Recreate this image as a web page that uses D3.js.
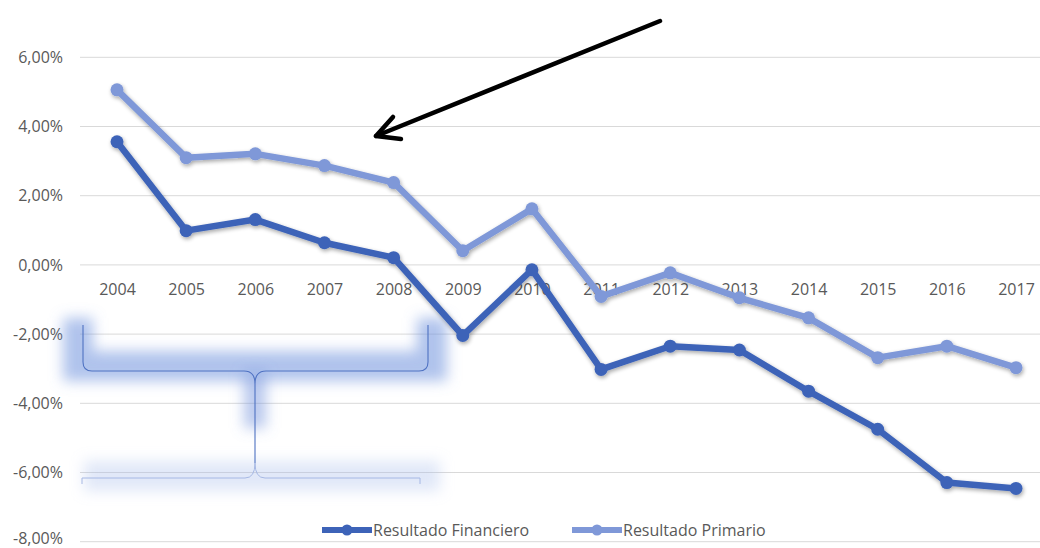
<!DOCTYPE html>
<html><head><meta charset="utf-8">
<script src="https://cdn.jsdelivr.net/npm/d3@7"></script>
<style>body{margin:0;background:#fff}svg{display:block}</style>
</head><body>
<svg id="c" width="1040" height="548"></svg>
<script>
const years = ["2004","2005","2006","2007","2008","2009","2010","2011","2012","2013","2014","2015","2016","2017"];
const financiero = [3.56, 0.99, 1.31, 0.64, 0.21, -2.04, -0.14, -3.02, -2.35, -2.46, -3.65, -4.75, -6.29, -6.46];
const primario = [5.06, 3.10, 3.21, 2.87, 2.38, 0.41, 1.62, -0.91, -0.23, -0.95, -1.53, -2.68, -2.35, -2.97];
const yTicks = [6, 4, 2, 0, -2, -4, -6, -8];
const seriesNames = ["Resultado Financiero", "Resultado Primario"];
const colors = ["#3d63b8", "#7f98d8"];

const svg = d3.select("#c");
const W = 1040, H = 548;
const x = d3.scalePoint().domain(years).range([117, 1016]);
const y = d3.scaleLinear().domain([-8, 6]).range([541.7, 57.3]);
const fmt = v => d3.format(".2f")(v).replace(".", ",").replace("−", "-") + "%";
const FS = 16;

const defs = svg.append("defs");
const sh = defs.append("filter").attr("id","sh").attr("x","-10%").attr("y","-10%").attr("width","120%").attr("height","130%");
sh.append("feGaussianBlur").attr("in","SourceAlpha").attr("stdDeviation",2.2).attr("result","b");
sh.append("feOffset").attr("in","b").attr("dx",1).attr("dy",2).attr("result","o");
sh.append("feComponentTransfer").attr("in","o").attr("result","o2").append("feFuncA").attr("type","linear").attr("slope",0.35);
const m = sh.append("feMerge"); m.append("feMergeNode").attr("in","o2"); m.append("feMergeNode").attr("in","SourceGraphic");
const glow = defs.append("filter").attr("id","glow").attr("filterUnits","userSpaceOnUse")
  .attr("x",0).attr("y",0).attr("width",W).attr("height",H);
glow.append("feGaussianBlur").attr("stdDeviation",7);

// gridlines
svg.append("g").selectAll("line").data(yTicks).join("line")
  .attr("x1", 80).attr("x2", W).attr("y1", d => y(d)).attr("y2", d => y(d))
  .attr("stroke", "#d9d9d9").attr("stroke-width", 1);

// y labels
svg.append("g").selectAll("text").data(yTicks).join("text")
  .attr("x", 63).attr("y", d => Math.min(y(d), 538)).attr("dy", "0.36em").attr("text-anchor", "end")
  .attr("font-family", "Open Sans").attr("font-size", FS).attr("fill", "#595959")
  .text(fmt);

// x axis labels at zero line
const xa = svg.append("g").attr("transform", `translate(0,${y(0)})`)
  .call(d3.axisBottom(x).tickSize(0).tickPadding(25));
xa.select(".domain").remove();
xa.selectAll("text").attr("font-family", "Open Sans").attr("font-size", FS).attr("fill", "#595959").attr("dy","0.3em");

// brace annotation (glow + thin line)
const gB = svg.append("g");
const braceTop = "M83,325 L83,362 Q83,371 92,371 L244,371 Q255,371 255,384 L255,463 M255,384 Q255,371 266,371 L419,371 Q428,371 428,362 L428,325";
const braceBot = "M82,484 L82,478 L245,478 Q255,478 255,463 Q255,478 265,478 L420,478 L420,484";
gB.append("path").attr("d", "M78,318 L78,366 L432,366 L432,318")
  .attr("fill","none").attr("stroke","#6f92dc").attr("stroke-opacity",0.55).attr("stroke-width",30).attr("filter","url(#glow)");
gB.append("path").attr("d", "M255,372 L255,428")
  .attr("fill","none").attr("stroke","#6f92dc").attr("stroke-opacity",0.5).attr("stroke-width",22).attr("filter","url(#glow)");
gB.append("path").attr("d", "M84,476 L440,476")
  .attr("fill","none").attr("stroke","#a9bdec").attr("stroke-opacity",0.35).attr("stroke-width",30).attr("filter","url(#glow)");
gB.append("path").attr("d", braceTop).attr("fill","none").attr("stroke","#4f72c2").attr("stroke-width",1.1);
gB.append("path").attr("d", braceBot).attr("fill","none").attr("stroke","#a6b8e4").attr("stroke-width",1);

// lines
const line = d3.line().x((d,i) => x(years[i])).y(d => y(d));
[financiero, primario].forEach((vals, k) => {
  const g = svg.append("g").attr("filter","url(#sh)");
  g.append("path").datum(vals).attr("d", line).attr("fill","none")
    .attr("stroke", colors[k]).attr("stroke-width", 6.5).attr("stroke-linejoin","round").attr("stroke-linecap","round");
  g.selectAll("circle").data(vals).join("circle")
    .attr("cx", (d,i) => x(years[i])).attr("cy", d => y(d)).attr("r", 6.5).attr("fill", colors[k]);
});

// legend
const lg = svg.append("g");
const legX = [322, 572];
seriesNames.forEach((name, k) => {
  const gx = legX[k], gy = 530;
  lg.append("line").attr("x1", gx).attr("x2", gx + 50).attr("y1", gy).attr("y2", gy)
    .attr("stroke", colors[k]).attr("stroke-width", 6);
  lg.append("circle").attr("cx", gx + 25).attr("cy", gy).attr("r", 5.5).attr("fill", colors[k]);
  lg.append("text").attr("x", gx + 51).attr("y", gy).attr("dy","0.35em")
    .attr("font-family","Open Sans").attr("font-size", FS).attr("fill","#595959").text(name);
});

// arrow annotation
const ag = svg.append("g").attr("stroke","#000").attr("stroke-width",4.5).attr("stroke-linecap","round").attr("fill","none");
ag.append("path").attr("d","M660,21 L376,136");
ag.append("path").attr("d","M393,117 L376,136 L401,139").attr("stroke-linejoin","round");
</script>
</body></html>
